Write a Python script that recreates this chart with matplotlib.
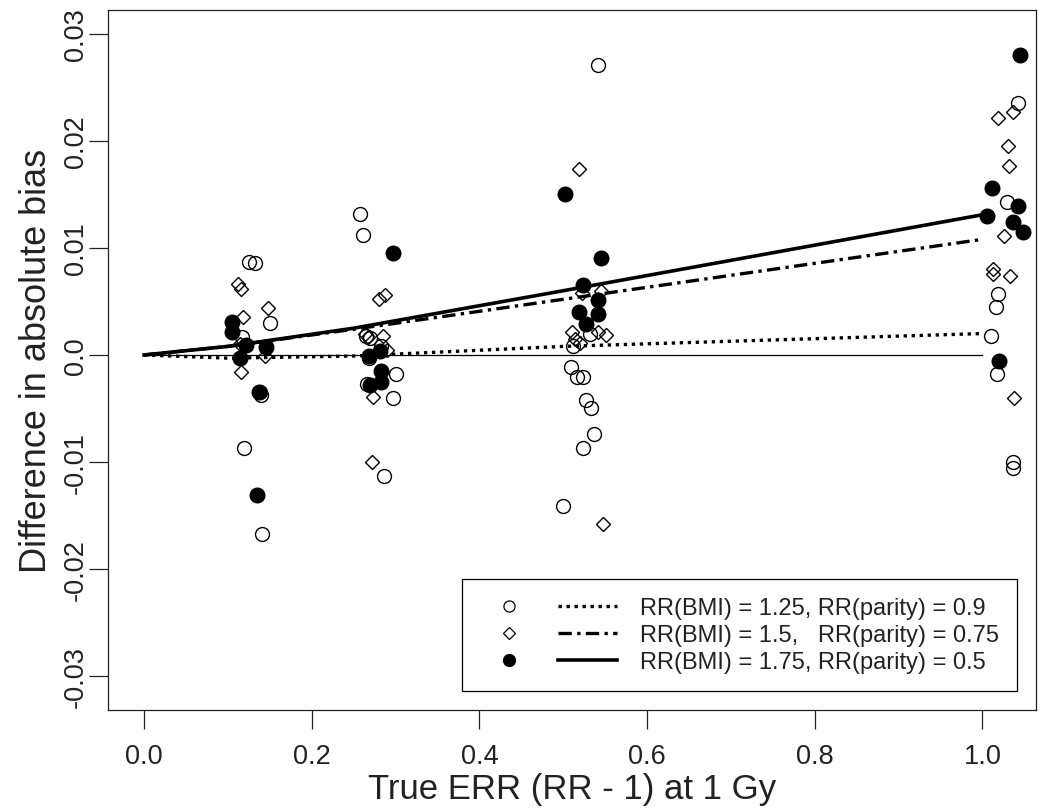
import matplotlib
matplotlib.use('Agg')
import matplotlib.pyplot as plt
from matplotlib.lines import Line2D
from matplotlib.legend_handler import HandlerTuple

plt.rcParams['font.family'] = ['Liberation Sans', 'DejaVu Sans']

# open circles: RR(BMI) = 1.25, RR(parity) = 0.9
x_low = [0.125, 0.132, 0.150, 0.117, 0.138, 0.140, 0.119, 0.141,
         0.258, 0.261, 0.265, 0.270, 0.283, 0.300, 0.266, 0.297, 0.286, 0.268,
         0.542, 0.532, 0.512, 0.509, 0.517, 0.524, 0.527, 0.533, 0.537, 0.524, 0.500,
         1.043, 1.030, 1.019, 1.016, 1.010, 1.017, 1.036, 1.036]
y_low = [0.0087, 0.0086, 0.0030, 0.0017, -0.0035, -0.0037, -0.0087, -0.0167,
         0.0132, 0.0112, 0.0018, 0.0016, 0.0008, -0.0018, -0.0027, -0.0040, -0.0113, -0.0003,
         0.0271, 0.0020, 0.0008, -0.0011, -0.0021, -0.0021, -0.0042, -0.0050, -0.0074, -0.0087, -0.0141,
         0.0235, 0.0143, 0.0057, 0.0045, 0.0018, -0.0018, -0.0100, -0.0106]

# open diamonds: RR(BMI) = 1.5, RR(parity) = 0.75
x_mid = [0.112, 0.116, 0.148, 0.118, 0.114, 0.144, 0.116,
         0.280, 0.288, 0.263, 0.267, 0.285, 0.290, 0.273, 0.272,
         0.519, 0.545, 0.511, 0.514, 0.520, 0.542, 0.551, 0.547, 0.523,
         1.019, 1.036, 1.031, 1.032, 1.026, 1.013, 1.013, 1.033, 1.038]
y_mid = [0.0066, 0.0062, 0.0044, 0.0035, 0.0010, -0.0001, -0.0016,
         0.0052, 0.0056, 0.0020, 0.0017, 0.0018, 0.0005, -0.0039, -0.0100,
         0.0174, 0.0060, 0.0021, 0.0015, 0.0011, 0.0021, 0.0019, -0.0158, 0.0058,
         0.0221, 0.0227, 0.0195, 0.0177, 0.0111, 0.0080, 0.0076, 0.0074, -0.0040]

# filled circles: RR(BMI) = 1.75, RR(parity) = 0.5
x_high = [0.105, 0.105, 0.122, 0.146, 0.115, 0.137, 0.135,
          0.297, 0.268, 0.282, 0.283, 0.270, 0.283,
          0.502, 0.545, 0.524, 0.541, 0.519, 0.541, 0.527,
          1.045, 1.012, 1.042, 1.006, 1.036, 1.049, 1.020]
y_high = [0.0031, 0.0021, 0.0009, 0.0007, -0.0003, -0.0035, -0.0131,
          0.0095, -0.0001, 0.0004, -0.0015, -0.0028, -0.0025,
          0.0150, 0.0091, 0.0065, 0.0051, 0.0040, 0.0038, 0.0029,
          0.0280, 0.0156, 0.0139, 0.0130, 0.0124, 0.0115, -0.0006]

# fitted lines over true ERR
err = [0.0, 0.1, 0.25, 0.5, 1.0]
fit_low = [0.0, -0.0003, -0.0001, 0.0008, 0.0020]
fit_mid = [0.0, 0.0008, 0.0024, 0.0052, 0.0108]
fit_high = [0.0, 0.0008, 0.0025, 0.0060, 0.0131]

labels = ["RR(BMI) = 1.25, RR(parity) = 0.9",
          "RR(BMI) = 1.5,   RR(parity) = 0.75",
          "RR(BMI) = 1.75, RR(parity) = 0.5"]

xticks = [0.0, 0.2, 0.4, 0.6, 0.8, 1.0]
xticklabels = ["0.0", "0.2", "0.4", "0.6", "0.8", "1.0"]
yticks = [-0.03, -0.02, -0.01, 0.0, 0.01, 0.02, 0.03]
yticklabels = ["-0.03", "-0.02", "-0.01", "0.0", "0.01", "0.02", "0.03"]

fig = plt.figure(figsize=(10.51, 8.12), dpi=100)
ax = fig.add_axes([0.1028, 0.1244, 0.8829, 0.8621])

ls_low = (0, (1.0, 1.4))
ls_mid = (0, (4.0, 1.6, 1.0, 1.6))

ax.plot([err[0], err[-1]], [0, 0], color='black', lw=0.9, zorder=1)
ax.plot(err, fit_low, color='black', lw=2.4, ls=ls_low, zorder=2)
ax.plot(err, fit_mid, color='black', lw=2.4, ls=ls_mid, zorder=2)
ax.plot(err, fit_high, color='black', lw=2.6, zorder=2)

ax.plot(x_low, y_low, 'o', ms=10, mfc='none', mec='black', mew=1.0, zorder=3)
ax.plot(x_mid, y_mid, 'D', ms=7.5, mfc='none', mec='black', mew=1.0, zorder=3)
ax.plot(x_high, y_high, 'o', ms=10.5, mfc='black', mec='black', zorder=4)

ax.set_xlim(-0.043, 1.064)
ax.set_ylim(-0.03318, 0.03224)
ax.set_xticks(xticks, xticklabels)
ax.set_yticks(yticks, yticklabels)
plt.setp(ax.get_yticklabels(), rotation=90, va='center')
ax.tick_params(direction='out', length=14, width=0.9, labelsize=19.5, pad=10,
               colors='#222222', labelcolor='#222222')
ax.tick_params(axis='y', pad=0)
for sp in ax.spines.values():
    sp.set_linewidth(0.9)
    sp.set_color('#222222')

ax.set_xlabel("True ERR (RR - 1) at 1 Gy", fontsize=25, color='#222222', labelpad=2)
ax.set_ylabel("Difference in absolute bias", fontsize=26, color='#222222', labelpad=6)

h1 = (Line2D([], [], marker='o', ls='none', ms=8, mfc='none', mec='black', mew=0.9),
      Line2D([], [], color='black', lw=2.4, ls=ls_low))
h2 = (Line2D([], [], marker='D', ls='none', ms=6, mfc='none', mec='black', mew=0.9),
      Line2D([], [], color='black', lw=2.4, ls=ls_mid))
h3 = (Line2D([], [], marker='o', ls='none', ms=8.5, mfc='black', mec='black'),
      Line2D([], [], color='black', lw=2.6))
leg = ax.legend([h1, h2, h3], labels, loc='lower right', fontsize=17,
                handler_map={tuple: HandlerTuple(ndivide=None, pad=0.8)},
                handlelength=5.8, handletextpad=1.0, borderpad=0.75,
                labelspacing=0.22, borderaxespad=0.8, fancybox=False,
                framealpha=1, edgecolor='black')
leg.get_frame().set_linewidth(0.9)
for t in leg.get_texts():
    t.set_color('#222222')

fig.savefig("out.png", dpi=100)
